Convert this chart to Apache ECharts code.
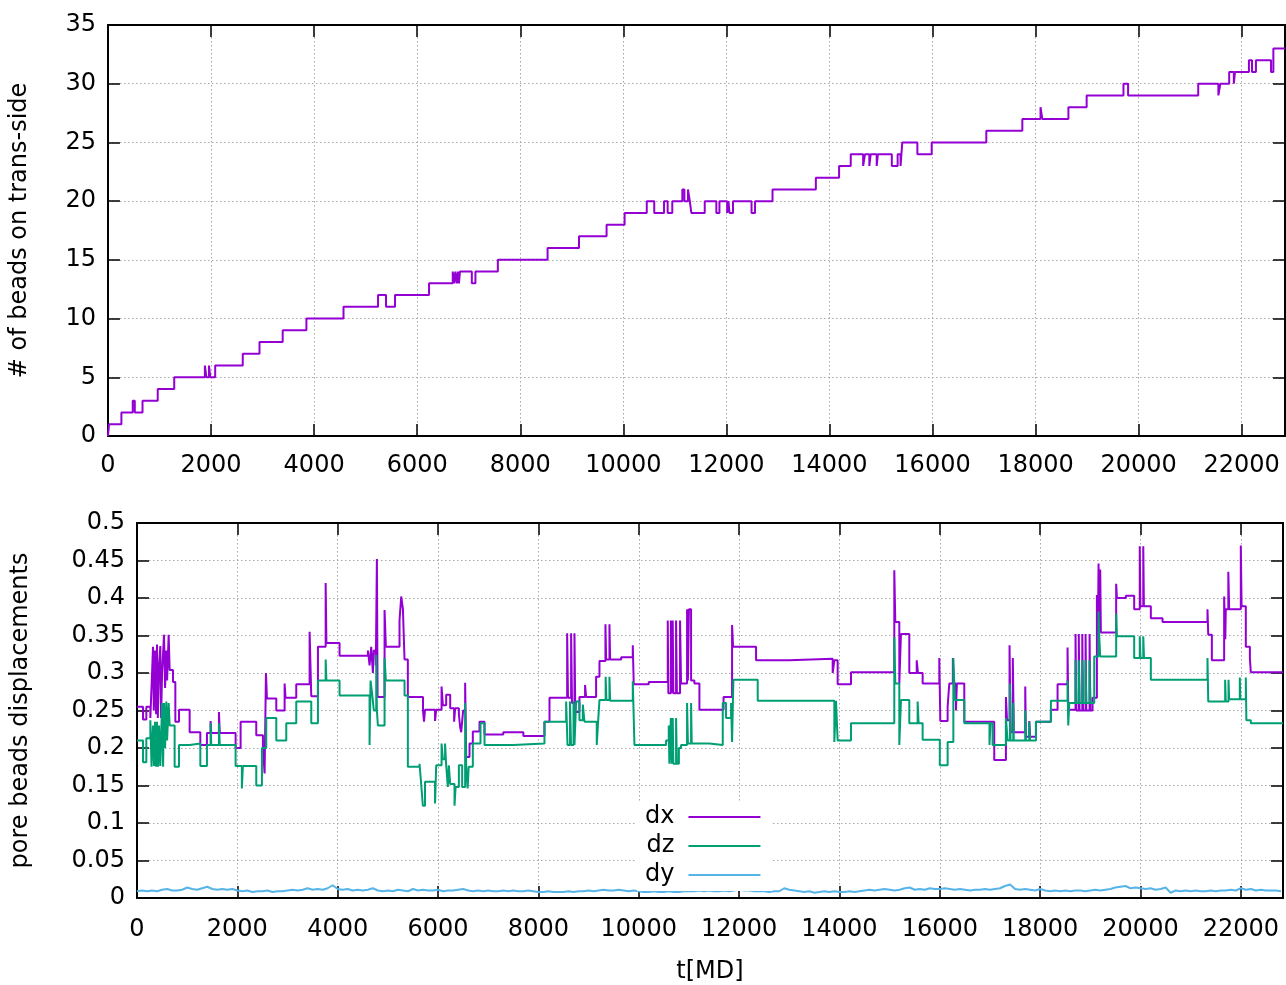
<!DOCTYPE html>
<html>
<head>
<meta charset="utf-8">
<title>trans-side beads and pore displacements</title>
<script src="https://cdn.jsdelivr.net/npm/echarts/dist/echarts.min.js"></script>
<style>
  html, body { margin: 0; padding: 0; background: #fff; }
  #chart { width: 1286px; height: 985px; }
</style>
</head>
<body>
<div id="chart"></div>
<script>
// time axis range [MD]
var tMax = 22840

// number of beads on trans-side: [t, count] from t until the next entry
var beadSteps = [
  [0, 0], [20, 1], [260, 2], [480, 3], [520, 2], [670, 3], [965, 4], [1285, 5],
  [1880, 6], [1910, 5], [1960, 6], [1985, 5], [2080, 6], [2615, 7], [2940, 8],
  [3390, 9], [3850, 10], [4570, 11], [5240, 12], [5395, 11], [5570, 12], [6230, 13],
  [6690, 14], [6720, 13], [6740, 14], [6770, 13], [6790, 14], [6810, 13], [6830, 14],
  [7060, 13], [7130, 14], [7565, 15], [8530, 16], [9140, 17], [9675, 18], [10025, 19],
  [10455, 20], [10600, 19], [10790, 20], [10860, 19], [10950, 20], [11145, 21], [11185, 20],
  [11255, 21], [11290, 20], [11320, 19], [11580, 20], [11805, 19], [11865, 20], [12015, 19],
  [12040, 20], [12060, 19], [12128, 20], [12488, 19], [12556, 20], [12895, 21], [13736, 22],
  [14187, 23], [14413, 24], [14654, 23], [14690, 24], [14774, 23], [14800, 24], [14917, 23],
  [14940, 24], [15210, 23], [15323, 24], [15380, 23], [15413, 25], [15706, 24], [15984, 25],
  [17044, 26], [17743, 27], [18096, 28], [18130, 27], [18637, 28], [18991, 29], [19705, 30],
  [19795, 29], [21156, 30], [21547, 29], [21585, 30], [21757, 31], [21847, 30], [21870, 31],
  [22140, 32], [22200, 31], [22276, 32], [22569, 31], [22614, 33], [22840, 33]
]

// pore bead displacement dx: [t, value]
var dxSteps = [
  [0, 0.255], [120, 0.238], [186, 0.255], [266, 0.24], [300, 0.3], [319, 0.335], [335, 0.25],
  [360, 0.33], [380, 0.245], [398, 0.338], [415, 0.24], [440, 0.31], [465, 0.336], [480, 0.24],
  [500, 0.3], [538, 0.351], [560, 0.28], [584, 0.33], [600, 0.29], [631, 0.351], [651, 0.304],
  [717, 0.288], [764, 0.235], [837, 0.251], [1049, 0.221], [1262, 0.204], [1394, 0.22],
  [1467, 0.236], [1480, 0.22], [1633, 0.248], [1650, 0.22], [1965, 0.2], [2065, 0.235],
  [2377, 0.217], [2510, 0.2], [2543, 0.166], [2570, 0.3], [2590, 0.266], [2776, 0.25],
  [2942, 0.286], [2960, 0.267], [3174, 0.285], [3440, 0.355], [3473, 0.269], [3606, 0.335],
  [3760, 0.42], [3775, 0.34], [4037, 0.323], [4602, 0.33], [4635, 0.31], [4668, 0.335],
  [4701, 0.3], [4720, 0.33], [4760, 0.31], [4781, 0.452], [4795, 0.268], [4934, 0.384],
  [4960, 0.335], [5232, 0.37], [5266, 0.402], [5300, 0.385], [5332, 0.318], [5398, 0.268],
  [5700, 0.25], [5720, 0.235], [5740, 0.251], [5940, 0.236], [5963, 0.251], [6070, 0.282],
  [6096, 0.257], [6162, 0.271], [6242, 0.253], [6320, 0.235], [6341, 0.253], [6415, 0.245],
  [6440, 0.228], [6461, 0.221], [6500, 0.25], [6540, 0.287], [6561, 0.188], [6627, 0.206],
  [6693, 0.222], [6826, 0.235], [6926, 0.218], [7300, 0.221], [7700, 0.216], [8121, 0.235],
  [8221, 0.267], [8573, 0.353], [8590, 0.267], [8652, 0.353], [8670, 0.26], [8719, 0.353],
  [8735, 0.248], [8818, 0.268], [8930, 0.284], [8951, 0.268], [9150, 0.295], [9217, 0.316],
  [9336, 0.365], [9350, 0.318], [9416, 0.365], [9430, 0.318], [9650, 0.321], [9881, 0.337],
  [9900, 0.285], [10200, 0.288], [10578, 0.37], [10590, 0.273], [10640, 0.37], [10655, 0.273],
  [10677, 0.37], [10690, 0.273], [10744, 0.37], [10760, 0.273], [10823, 0.37], [10843, 0.286],
  [10963, 0.385], [10980, 0.29], [11000, 0.385], [11043, 0.29], [11109, 0.286], [11209, 0.251],
  [11690, 0.268], [11860, 0.364], [11880, 0.335], [12338, 0.317], [13000, 0.319], [13865, 0.3],
  [13898, 0.317], [13964, 0.285], [14230, 0.301], [15093, 0.437], [15113, 0.368], [15193, 0.286],
  [15226, 0.352], [15392, 0.3], [15540, 0.317], [15565, 0.3], [15658, 0.286], [15990, 0.32],
  [16010, 0.236], [16156, 0.255], [16189, 0.286], [16260, 0.32], [16280, 0.286], [16322, 0.25],
  [16340, 0.286], [16488, 0.235], [17085, 0.184], [17318, 0.268], [17340, 0.237], [17390, 0.337],
  [17410, 0.221], [17455, 0.32], [17475, 0.221], [17703, 0.282], [17716, 0.215], [17783, 0.236],
  [17800, 0.215], [17916, 0.235], [18214, 0.251], [18347, 0.285], [18546, 0.334], [18560, 0.251],
  [18705, 0.352], [18720, 0.25], [18770, 0.352], [18785, 0.25], [18840, 0.352], [18855, 0.25],
  [18905, 0.352], [18920, 0.25], [18985, 0.352], [19000, 0.25], [19044, 0.267], [19131, 0.404],
  [19150, 0.35], [19164, 0.446], [19180, 0.36], [19197, 0.438], [19210, 0.354], [19515, 0.419],
  [19530, 0.4], [19708, 0.403], [19874, 0.385], [19985, 0.469], [19998, 0.389], [20055, 0.469],
  [20068, 0.389], [20206, 0.373], [20439, 0.368], [21335, 0.385], [21350, 0.351], [21422, 0.317],
  [21667, 0.402], [21690, 0.345], [21700, 0.385], [21750, 0.435], [21767, 0.385], [21999, 0.47],
  [22015, 0.389], [22099, 0.335], [22180, 0.32], [22198, 0.301], [22840, 0.301]
]

// pore bead displacement dz: [t, value]
var dzSteps = [
  [0, 0.21], [120, 0.181], [186, 0.213], [266, 0.237], [290, 0.175], [319, 0.23], [340, 0.176],
  [360, 0.235], [380, 0.175], [398, 0.235], [420, 0.175], [440, 0.23], [465, 0.176], [500, 0.26],
  [520, 0.175], [538, 0.26], [560, 0.2], [584, 0.262], [600, 0.21], [631, 0.26], [651, 0.23],
  [750, 0.175], [837, 0.204], [1049, 0.206], [1262, 0.176], [1394, 0.204], [1467, 0.233],
  [1480, 0.204], [1633, 0.233], [1650, 0.204], [1965, 0.176], [2090, 0.146], [2110, 0.176],
  [2377, 0.15], [2490, 0.2], [2576, 0.24], [2776, 0.21], [2975, 0.233], [3174, 0.262],
  [3473, 0.233], [3606, 0.29], [3760, 0.318], [3775, 0.29], [4037, 0.27], [4635, 0.204],
  [4655, 0.29], [4690, 0.27], [4720, 0.25], [4768, 0.324], [4781, 0.25], [4801, 0.23],
  [4934, 0.32], [4960, 0.29], [5332, 0.27], [5398, 0.175], [5631, 0.179], [5660, 0.155],
  [5697, 0.123], [5740, 0.155], [5940, 0.126], [5963, 0.177], [6070, 0.206], [6096, 0.185],
  [6140, 0.206], [6162, 0.177], [6195, 0.148], [6215, 0.177], [6242, 0.152], [6328, 0.123],
  [6350, 0.148], [6415, 0.177], [6481, 0.148], [6540, 0.26], [6561, 0.175], [6590, 0.146],
  [6610, 0.175], [6693, 0.206], [6846, 0.233], [6926, 0.204], [7500, 0.206], [8121, 0.235],
  [8553, 0.262], [8580, 0.204], [8630, 0.262], [8650, 0.204], [8700, 0.262], [8719, 0.204],
  [8752, 0.262], [8818, 0.237], [8885, 0.258], [8918, 0.235], [9163, 0.204], [9190, 0.235],
  [9217, 0.264], [9340, 0.295], [9356, 0.264], [9416, 0.295], [9430, 0.263], [9881, 0.289],
  [9914, 0.204], [10545, 0.21], [10598, 0.23], [10610, 0.179], [10640, 0.24], [10655, 0.179],
  [10677, 0.24], [10690, 0.179], [10744, 0.24], [10760, 0.179], [10800, 0.2], [10843, 0.204],
  [10963, 0.26], [10980, 0.206], [11043, 0.26], [11056, 0.206], [11408, 0.204], [11674, 0.26],
  [11740, 0.24], [11840, 0.26], [11860, 0.208], [11886, 0.291], [12371, 0.263], [13898, 0.208],
  [13931, 0.263], [13964, 0.21], [14230, 0.233], [15093, 0.348], [15113, 0.286], [15193, 0.204],
  [15226, 0.264], [15392, 0.233], [15558, 0.262], [15578, 0.233], [15658, 0.211], [16000, 0.177],
  [16156, 0.208], [16270, 0.32], [16300, 0.264], [16488, 0.233], [16990, 0.204], [17010, 0.233],
  [17052, 0.204], [17318, 0.24], [17351, 0.21], [17398, 0.286], [17410, 0.21], [17464, 0.26],
  [17475, 0.21], [17703, 0.25], [17716, 0.21], [17783, 0.235], [17800, 0.21], [17916, 0.235],
  [18214, 0.263], [18546, 0.29], [18560, 0.23], [18580, 0.26], [18705, 0.317], [18720, 0.26],
  [18770, 0.317], [18785, 0.26], [18840, 0.317], [18855, 0.26], [18905, 0.317], [18920, 0.26],
  [18985, 0.317], [19000, 0.26], [19078, 0.322], [19164, 0.382], [19180, 0.346], [19197, 0.322],
  [19515, 0.379], [19530, 0.349], [19874, 0.32], [19985, 0.349], [20000, 0.32], [20055, 0.349],
  [20070, 0.32], [20206, 0.291], [21335, 0.32], [21350, 0.262], [21687, 0.291], [21700, 0.262],
  [21754, 0.291], [21767, 0.265], [21979, 0.294], [21990, 0.265], [22099, 0.294], [22110, 0.237],
  [22198, 0.233], [22840, 0.233]
]

// dy sampled every dyStep MD
var dyStep = 100
var dyValues = [
  0.009, 0.010, 0.009, 0.010, 0.009, 0.011, 0.012, 0.010, 0.010, 0.011,
  0.014, 0.012, 0.011, 0.013, 0.015, 0.012, 0.011, 0.012, 0.011, 0.012,
  0.010, 0.009, 0.010, 0.008, 0.009, 0.009, 0.010, 0.008, 0.009, 0.009,
  0.010, 0.011, 0.010, 0.011, 0.013, 0.011, 0.012, 0.011, 0.013, 0.017,
  0.012, 0.011, 0.012, 0.010, 0.011, 0.010, 0.011, 0.013, 0.010, 0.009,
  0.010, 0.009, 0.011, 0.010, 0.009, 0.012, 0.010, 0.011, 0.010, 0.010,
  0.011, 0.009, 0.010, 0.010, 0.011, 0.012, 0.010, 0.009, 0.010, 0.009,
  0.010, 0.009, 0.009, 0.010, 0.009, 0.010, 0.009, 0.009, 0.010, 0.009,
  0.008, 0.008, 0.009, 0.008, 0.008, 0.008, 0.009, 0.008, 0.009, 0.009,
  0.010, 0.009, 0.010, 0.011, 0.010, 0.010, 0.011, 0.010, 0.009, 0.010,
  0.009, 0.008, 0.008, 0.009, 0.008, 0.008, 0.009, 0.008, 0.008, 0.009,
  0.009, 0.009, 0.010, 0.009, 0.010, 0.009, 0.009, 0.010, 0.009, 0.010,
  0.012, 0.010, 0.010, 0.009, 0.009, 0.009, 0.008, 0.009, 0.009, 0.013,
  0.011, 0.010, 0.009, 0.008, 0.009, 0.007, 0.008, 0.009, 0.008, 0.009,
  0.008, 0.008, 0.009, 0.008, 0.009, 0.010, 0.011, 0.010, 0.011, 0.012,
  0.011, 0.010, 0.011, 0.013, 0.014, 0.011, 0.012, 0.011, 0.013, 0.012,
  0.012, 0.013, 0.012, 0.011, 0.012, 0.011, 0.010, 0.011, 0.011, 0.012,
  0.011, 0.012, 0.013, 0.016, 0.018, 0.012, 0.011, 0.012, 0.011, 0.010,
  0.012, 0.010, 0.009, 0.010, 0.009, 0.010, 0.009, 0.010, 0.010, 0.009,
  0.010, 0.011, 0.010, 0.011, 0.012, 0.014, 0.015, 0.016, 0.013, 0.014,
  0.013, 0.012, 0.013, 0.011, 0.012, 0.014, 0.007, 0.010, 0.009, 0.010,
  0.009, 0.010, 0.009, 0.009, 0.010, 0.009, 0.010, 0.010, 0.011, 0.010,
  0.013, 0.011, 0.012, 0.010, 0.011, 0.010, 0.010, 0.010, 0.009
]

var fontFamily = 'DejaVu Sans'
var black = '#000'

function gridLine() {
  return { show: true, lineStyle: { color: '#a8a8a8', width: 1, type: [1.5, 2.5] } }
}

// plain numbers, no thousands separator
function plainLabel(v) {
  return String(+v.toFixed(2))
}

// one pair of x axes (bottom with labels, top mirror) for a grid
function xAxes(gridIndex, extra) {
  var main = {
    gridIndex: gridIndex,
    type: 'value',
    position: 'bottom',
    min: 0,
    max: tMax,
    interval: 2000,
    axisLine: { show: true, onZero: false, lineStyle: { color: black, width: 2 } },
    axisTick: { show: true, inside: true, length: 12, lineStyle: { color: black, width: 1.5 } },
    axisLabel: { fontSize: 24, color: black, fontFamily: fontFamily, margin: 18, showMaxLabel: false, formatter: plainLabel },
    splitLine: gridLine()
  }
  Object.assign(main, extra || {})
  var mirror = {
    gridIndex: gridIndex,
    type: 'value',
    position: 'top',
    min: 0,
    max: tMax,
    interval: 2000,
    axisLine: { show: true, onZero: false, lineStyle: { color: black, width: 2 } },
    axisTick: { show: true, inside: true, length: 12, lineStyle: { color: black, width: 1.5 } },
    axisLabel: { show: false },
    splitLine: { show: false }
  }
  return [main, mirror]
}

function yAxes(gridIndex, max, interval, name, nameGap) {
  var main = {
    gridIndex: gridIndex,
    type: 'value',
    position: 'left',
    min: 0,
    max: max,
    interval: interval,
    name: name,
    nameLocation: 'middle',
    nameGap: nameGap,
    nameTextStyle: { fontSize: 24, color: black, fontFamily: fontFamily },
    axisLine: { show: true, onZero: false, lineStyle: { color: black, width: 2 } },
    axisTick: { show: true, inside: true, length: 12, lineStyle: { color: black, width: 1.5 } },
    axisLabel: { fontSize: 24, color: black, fontFamily: fontFamily, margin: 12, formatter: plainLabel },
    splitLine: gridLine()
  }
  var mirror = {
    gridIndex: gridIndex,
    type: 'value',
    position: 'right',
    min: 0,
    max: max,
    interval: interval,
    axisLine: { show: true, onZero: false, lineStyle: { color: black, width: 2 } },
    axisTick: { show: true, inside: true, length: 12, lineStyle: { color: black, width: 1.5 } },
    axisLabel: { show: false },
    splitLine: { show: false }
  }
  return [main, mirror]
}

var chart = echarts.init(document.getElementById('chart'), null, { renderer: 'canvas' })

var dyData = dyValues.map(function(v, i) { return [i * dyStep, v] })

var xs = xAxes(0).concat(xAxes(1, {
  name: 't[MD]',
  nameLocation: 'middle',
  nameGap: 62,
  nameTextStyle: { fontSize: 24, color: black, fontFamily: fontFamily },
  axisLabel: { fontSize: 24, color: black, fontFamily: fontFamily, margin: 20, showMaxLabel: false, formatter: plainLabel }
}))
var ys = yAxes(0, 35, 5, '# of beads on trans-side', 76).concat(
  yAxes(1, 0.5, 0.05, 'pore beads displacements', 104))

chart.setOption({
  animation: false,
  backgroundColor: '#fff',
  textStyle: { fontFamily: fontFamily },
  grid: [
    { left: 108, top: 25, width: 1177, height: 411, containLabel: false },
    { left: 137, top: 523, width: 1146, height: 375, containLabel: false }
  ],
  legend: {
    data: ['dx', 'dz', 'dy'],
    orient: 'vertical',
    align: 'right',
    left: 637,
    top: 802,
    padding: [3, 12, 4, 8],
    itemGap: 5,
    itemWidth: 72,
    itemHeight: 2,
    icon: 'rect',
    backgroundColor: '#fff',
    z: 10,
    textStyle: { fontSize: 24, color: black, fontFamily: fontFamily, padding: [0, 9, 0, 0] }
  },
  xAxis: xs,
  yAxis: ys,
  series: [
    {
      name: 'trans',
      type: 'line',
      xAxisIndex: 0,
      yAxisIndex: 0,
      step: 'end',
      showSymbol: false,
      lineStyle: { color: '#9400d3', width: 2 },
      itemStyle: { color: '#9400d3' },
      data: beadSteps
    },
    {
      name: 'dx',
      type: 'line',
      xAxisIndex: 2,
      yAxisIndex: 2,
      step: 'end',
      showSymbol: false,
      lineStyle: { color: '#9400d3', width: 2 },
      itemStyle: { color: '#9400d3' },
      data: dxSteps
    },
    {
      name: 'dz',
      type: 'line',
      xAxisIndex: 2,
      yAxisIndex: 2,
      step: 'end',
      showSymbol: false,
      lineStyle: { color: '#009e73', width: 2 },
      itemStyle: { color: '#009e73' },
      data: dzSteps
    },
    {
      name: 'dy',
      type: 'line',
      xAxisIndex: 2,
      yAxisIndex: 2,
      showSymbol: false,
      lineStyle: { color: '#56b4e9', width: 2 },
      itemStyle: { color: '#56b4e9' },
      data: dyData
    }
  ]
})
</script>
</body>
</html>
